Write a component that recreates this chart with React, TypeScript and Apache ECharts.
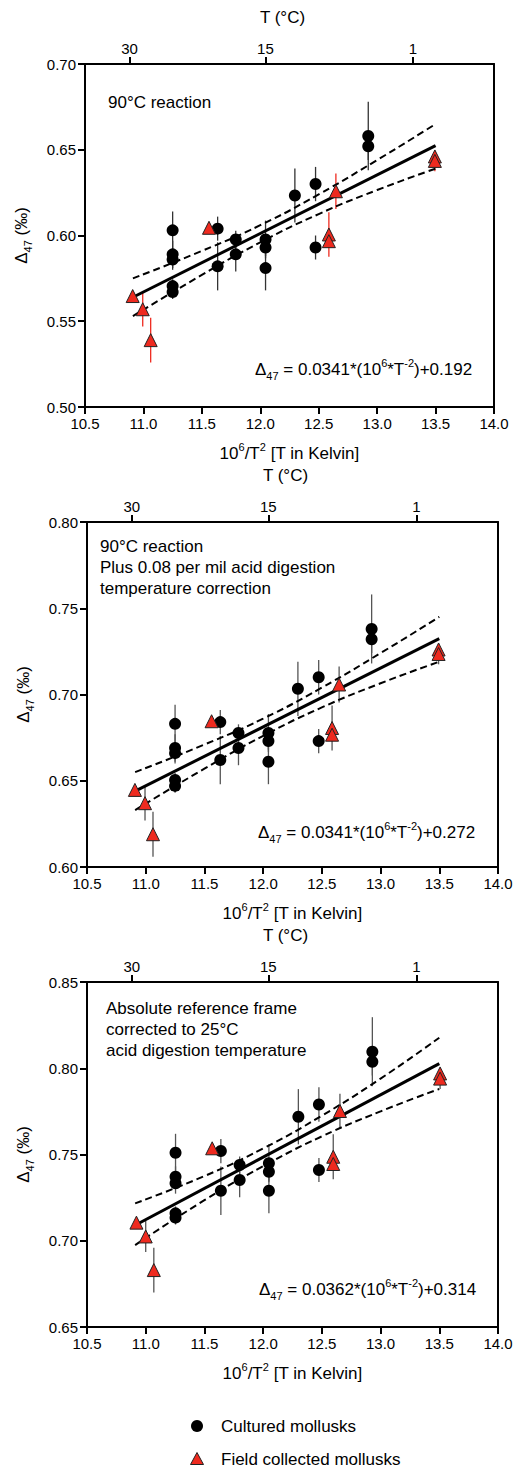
import React, { useEffect, useRef } from "react";
import * as echarts from "echarts";

// ---------- DATA ----------
// [x = 10^6/T^2, Δ47, error half-width]
const P1_CULTURED: number[][] = [
  [11.25, 0.603, 0.011], [11.25, 0.589, 0.008], [11.25, 0.586, 0.006], [11.25, 0.5705, 0.004], [11.25, 0.567, 0.004],
  [11.635, 0.604, 0.007], [11.635, 0.582, 0.014], [11.79, 0.5977, 0.005], [11.79, 0.589, 0.01],
  [12.045, 0.5977, 0.011], [12.045, 0.593, 0.005], [12.045, 0.581, 0.013], [12.296, 0.6233, 0.0157],
  [12.473, 0.63, 0.01], [12.473, 0.593, 0.007], [12.924, 0.658, 0.02], [12.924, 0.652, 0.008],
];
const P1_FIELD: number[][] = [
  [10.908, 0.5647, 0], [10.994, 0.557, 0.01], [11.062, 0.539, 0.013], [11.561, 0.6045, 0.002],
  [12.587, 0.6006, 0.013], [12.587, 0.5967, 0.004], [12.647, 0.6258, 0.0104],
  [13.494, 0.6461, 0.003], [13.494, 0.6435, 0.006],
];
const P1_FIT: number[][] = [[10.91, 0.564], [13.5, 0.6524]];
const CI_X = [10.91, 11.5, 12.0, 12.5, 13.0, 13.5];
const P1_CI_UPPER = [0.575, 0.591, 0.606, 0.624, 0.644, 0.665];
const P1_CI_LOWER = [0.553, 0.577, 0.596, 0.6125, 0.6265, 0.639];

const P2_CULTURED: number[][] = [
  [11.25, 0.683, 0.011], [11.25, 0.669, 0.008], [11.25, 0.666, 0.006], [11.25, 0.6505, 0.004], [11.25, 0.647, 0.004],
  [11.635, 0.684, 0.007], [11.635, 0.662, 0.014], [11.79, 0.6777, 0.005], [11.79, 0.669, 0.01],
  [12.045, 0.6777, 0.011], [12.045, 0.673, 0.005], [12.045, 0.661, 0.013], [12.296, 0.7033, 0.0157],
  [12.473, 0.71, 0.01], [12.473, 0.673, 0.007], [12.924, 0.738, 0.02], [12.924, 0.732, 0.008],
];
const P2_FIELD: number[][] = [
  [10.908, 0.6447, 0], [10.994, 0.637, 0.01], [11.062, 0.619, 0.013], [11.561, 0.6845, 0.002],
  [12.587, 0.6806, 0.013], [12.587, 0.6767, 0.004], [12.647, 0.7058, 0.0104],
  [13.494, 0.7261, 0.003], [13.494, 0.7235, 0.006],
];
const P2_FIT: number[][] = [[10.91, 0.644], [13.5, 0.7324]];
const P2_CI_UPPER = [0.655, 0.671, 0.686, 0.704, 0.724, 0.745];
const P2_CI_LOWER = [0.633, 0.657, 0.676, 0.6925, 0.7065, 0.719];

const P3_CULTURED: number[][] = [
  [11.254, 0.751, 0.011], [11.254, 0.7371, 0.006], [11.254, 0.7333, 0.006], [11.254, 0.7159, 0.004], [11.254, 0.7134, 0.004],
  [11.64, 0.752, 0.007], [11.64, 0.729, 0.014], [11.8, 0.7439, 0.005], [11.8, 0.7352, 0.01],
  [12.049, 0.7449, 0.011], [12.049, 0.74, 0.005], [12.049, 0.729, 0.013], [12.3, 0.7719, 0.016],
  [12.475, 0.779, 0.01], [12.475, 0.741, 0.007], [12.93, 0.8096, 0.02], [12.93, 0.8038, 0.008],
];
const P3_FIELD: number[][] = [
  [10.921, 0.7105, 0], [11.0, 0.7025, 0.009], [11.069, 0.683, 0.013], [11.566, 0.7536, 0.002],
  [12.597, 0.7487, 0.013], [12.597, 0.7445, 0.004], [12.654, 0.7752, 0.01],
  [13.507, 0.797, 0.003], [13.507, 0.794, 0.006],
];
const P3_FIT: number[][] = [[10.91, 0.709], [13.5, 0.8027]];
const P3_CI_UPPER = [0.7217, 0.7375, 0.7535, 0.7725, 0.794, 0.8177];
const P3_CI_LOWER = [0.6975, 0.7235, 0.7432, 0.7605, 0.775, 0.788];

const Y_RANGES = [[0.5, 0.7], [0.6, 0.8], [0.65, 0.85]];
const X_MIN = 10.5;
const X_MAX = 14.0;
// top axis: 10^6/T^2 positions for 30, 15, 1 °C
const TOP_TICK_VALUES = [10.8814, 12.0438, 13.3053];
const TOP_TICK_LABELS = ["30", "15", "1"];

const PANEL_NOTES = [
  ["90°C reaction"],
  ["90°C reaction", "Plus 0.08 per mil acid digestion", "temperature correction"],
  ["Absolute reference frame", "corrected to 25°C", "acid digestion temperature"],
];
const EQ_SLOPES = ["0.0341", "0.0341", "0.0362"];
const EQ_INTERCEPTS = ["0.192", "0.272", "0.314"];

const CULTURED = "Cultured mollusks";
const FIELD = "Field collected mollusks";

// ---------- LAYOUT / STYLE ----------
const FONT = "Liberation Sans, Arial, Helvetica, sans-serif";
const GRIDS = [
  { left: 85, top: 64, width: 409, height: 343 },
  { left: 87, top: 522, width: 411, height: 345 },
  { left: 87, top: 982, width: 411, height: 345 },
];
const NOTE_POS = [
  { x: 108, y: 92 },
  { x: 100, y: 536 },
  { x: 106, y: 998 },
];
const EQ_POS = [
  { x: 255, y: 369 },
  { x: 258, y: 832 },
  { x: 259, y: 1289 },
];
const LEGEND_X = 197;
const LEGEND_Y = [1426, 1459];
const RED = "#ee2a1f";

const richBase = (size: number) => ({
  d: { fontSize: size, fontFamily: FONT, color: "#000", lineHeight: 24 },
  s: { fontSize: 11, fontFamily: FONT, color: "#000", lineHeight: 12, verticalAlign: "bottom" },
  p: { fontSize: 11, fontFamily: FONT, color: "#000", lineHeight: 12, verticalAlign: "top" },
});

function errorBarSeries(data: number[][], color: string, idx: number, name: string) {
  return {
    type: "custom",
    name,
    xAxisIndex: idx,
    yAxisIndex: idx,
    z: 2,
    silent: true,
    encode: { x: 0, y: 1 },
    data: data.filter((d) => d[2] > 0),
    renderItem: (_p: any, api: any) => {
      const x = api.value(0);
      const y = api.value(1);
      const e = api.value(2);
      const a = api.coord([x, y - e]);
      const b = api.coord([x, y + e]);
      return {
        type: "line",
        shape: { x1: a[0], y1: a[1], x2: b[0], y2: b[1] },
        style: { stroke: color, lineWidth: 1.3 },
      };
    },
  };
}

function buildOption() {
  const panels = [
    { c: P1_CULTURED, f: P1_FIELD, fit: P1_FIT, up: P1_CI_UPPER, lo: P1_CI_LOWER, cBar: "#333", fBar: RED },
    { c: P2_CULTURED, f: P2_FIELD, fit: P2_FIT, up: P2_CI_UPPER, lo: P2_CI_LOWER, cBar: "#555", fBar: "#555" },
    { c: P3_CULTURED, f: P3_FIELD, fit: P3_FIT, up: P3_CI_UPPER, lo: P3_CI_LOWER, cBar: "#555", fBar: "#555" },
  ];

  const grid = GRIDS.map((g) => ({ ...g, containLabel: false, outerBoundsMode: "none" }));

  const axisLine = { show: true, onZero: false, lineStyle: { color: "#000", width: 2 } };
  const axisTick = { show: true, length: 7, lineStyle: { color: "#000", width: 2 } };
  const labelStyle = { color: "#000", fontSize: 15, fontFamily: FONT };

  const xAxis: any[] = [];
  const yAxis: any[] = [];
  GRIDS.forEach((_g, i) => {
    xAxis.push({
      type: "value",
      gridIndex: i,
      position: "bottom",
      min: X_MIN,
      max: X_MAX,
      interval: 0.5,
      axisLine,
      axisTick,
      splitLine: { show: false },
      axisLabel: { ...labelStyle, margin: 9, formatter: (v: number) => v.toFixed(1) },
      name: "{d|10}{p|6}{d|/T}{p|2}{d| [T in Kelvin]}",
      nameLocation: "middle",
      nameGap: 34,
      nameTextStyle: { rich: richBase(17) },
    });
  });
  GRIDS.forEach((_g, i) => {
    xAxis.push({
      type: "value",
      gridIndex: i,
      position: "top",
      min: X_MIN,
      max: X_MAX,
      axisLine,
      axisTick: { ...axisTick, customValues: TOP_TICK_VALUES },
      splitLine: { show: false },
      axisLabel: {
        ...labelStyle,
        margin: 8,
        customValues: TOP_TICK_VALUES,
        formatter: (v: number) => {
          let best = 0;
          TOP_TICK_VALUES.forEach((t, k) => {
            if (Math.abs(t - v) < Math.abs(TOP_TICK_VALUES[best] - v)) best = k;
          });
          return TOP_TICK_LABELS[best];
        },
      },
      name: "T (°C)",
      nameLocation: "middle",
      nameGap: 38,
      nameTextStyle: { color: "#000", fontSize: 17, fontFamily: FONT, padding: [0, 14, 0, 0] },
    });
  });
  GRIDS.forEach((_g, i) => {
    yAxis.push({
      type: "value",
      gridIndex: i,
      position: "left",
      min: Y_RANGES[i][0],
      max: Y_RANGES[i][1],
      interval: 0.05,
      axisLine,
      axisTick,
      splitLine: { show: false },
      axisLabel: { ...labelStyle, margin: 9, formatter: (v: number) => v.toFixed(2) },
      name: "{d|Δ}{s|47}{d| (‰)}",
      nameLocation: "middle",
      nameRotate: 90,
      nameGap: 52,
      nameTextStyle: { rich: richBase(17) },
    });
  });
  GRIDS.forEach((_g, i) => {
    yAxis.push({
      type: "value",
      gridIndex: i,
      position: "right",
      min: Y_RANGES[i][0],
      max: Y_RANGES[i][1],
      axisLine,
      axisTick: { show: false },
      axisLabel: { show: false },
      splitLine: { show: false },
    });
  });

  const series: any[] = [];
  panels.forEach((p, i) => {
    series.push(errorBarSeries(p.c, p.cBar, i, CULTURED));
    series.push(errorBarSeries(p.f, p.fBar, i, FIELD));
    const dashed = {
      type: "line",
      xAxisIndex: i,
      yAxisIndex: i,
      symbol: "none",
      smooth: true,
      silent: true,
      z: 3,
      lineStyle: { color: "#000", width: 2, type: [7, 4] },
    };
    series.push({ ...dashed, name: "upper95", data: CI_X.map((x, k) => [x, p.up[k]]) });
    series.push({ ...dashed, name: "lower95", data: CI_X.map((x, k) => [x, p.lo[k]]) });
    series.push({
      type: "line",
      name: "fit",
      xAxisIndex: i,
      yAxisIndex: i,
      symbol: "none",
      silent: true,
      z: 3,
      data: p.fit,
      lineStyle: { color: "#000", width: 3 },
    });
    series.push({
      type: "scatter",
      name: CULTURED,
      xAxisIndex: i,
      yAxisIndex: i,
      symbol: "circle",
      symbolSize: 12,
      z: 5,
      data: p.c.map((d) => [d[0], d[1]]),
      itemStyle: { color: "#000", opacity: 1 },
    });
    series.push({
      type: "scatter",
      name: FIELD,
      xAxisIndex: i,
      yAxisIndex: i,
      symbol: "triangle",
      symbolSize: 13,
      z: 6,
      data: p.f.map((d) => [d[0], d[1]]),
      itemStyle: { color: RED, borderColor: "#222", borderWidth: 1, opacity: 1 },
    });
  });

  const graphic: any[] = [];
  PANEL_NOTES.forEach((lines, i) => {
    graphic.push({
      type: "text",
      x: NOTE_POS[i].x,
      y: NOTE_POS[i].y,
      silent: true,
      style: {
        text: lines.join("\n"),
        font: `17px ${FONT}`,
        fill: "#000",
        lineHeight: 21,
        verticalAlign: "top",
      },
    });
    graphic.push({
      type: "text",
      x: EQ_POS[i].x,
      y: EQ_POS[i].y,
      silent: true,
      style: {
        text: `{d|Δ}{s|47}{d| = ${EQ_SLOPES[i]}*(10}{p|6}{d|*T}{p|-2}{d|)+${EQ_INTERCEPTS[i]}}`,
        rich: richBase(17),
        verticalAlign: "middle",
      },
    });
  });
  // legend (drawn as graphic so that it may sit at the page's bottom edge)
  graphic.push({
    type: "circle",
    silent: true,
    shape: { cx: LEGEND_X, cy: LEGEND_Y[0], r: 6 },
    style: { fill: "#000" },
  });
  graphic.push({
    type: "polygon",
    silent: true,
    shape: {
      points: [
        [LEGEND_X, LEGEND_Y[1] - 6.5],
        [LEGEND_X - 6.5, LEGEND_Y[1] + 5.5],
        [LEGEND_X + 6.5, LEGEND_Y[1] + 5.5],
      ],
    },
    style: { fill: RED, stroke: "#222", lineWidth: 1 },
  });
  [CULTURED, FIELD].forEach((name, k) => {
    graphic.push({
      type: "text",
      silent: true,
      x: LEGEND_X + 24,
      y: LEGEND_Y[k],
      style: { text: name, font: `17px ${FONT}`, fill: "#000", verticalAlign: "middle" },
    });
  });

  return {
    animation: false,
    backgroundColor: "#fff",
    grid,
    xAxis,
    yAxis,
    series,
    graphic,
  };
}

export default function App() {
  const ref = useRef<HTMLDivElement>(null);
  useEffect(() => {
    document.body.style.margin = "0";
    if (!ref.current) return;
    const chart = echarts.init(ref.current, undefined, { renderer: "svg" });
    chart.setOption(buildOption() as any);
    return () => chart.dispose();
  }, []);
  return <div ref={ref} style={{ width: 513, height: 1469 }} />;
}
